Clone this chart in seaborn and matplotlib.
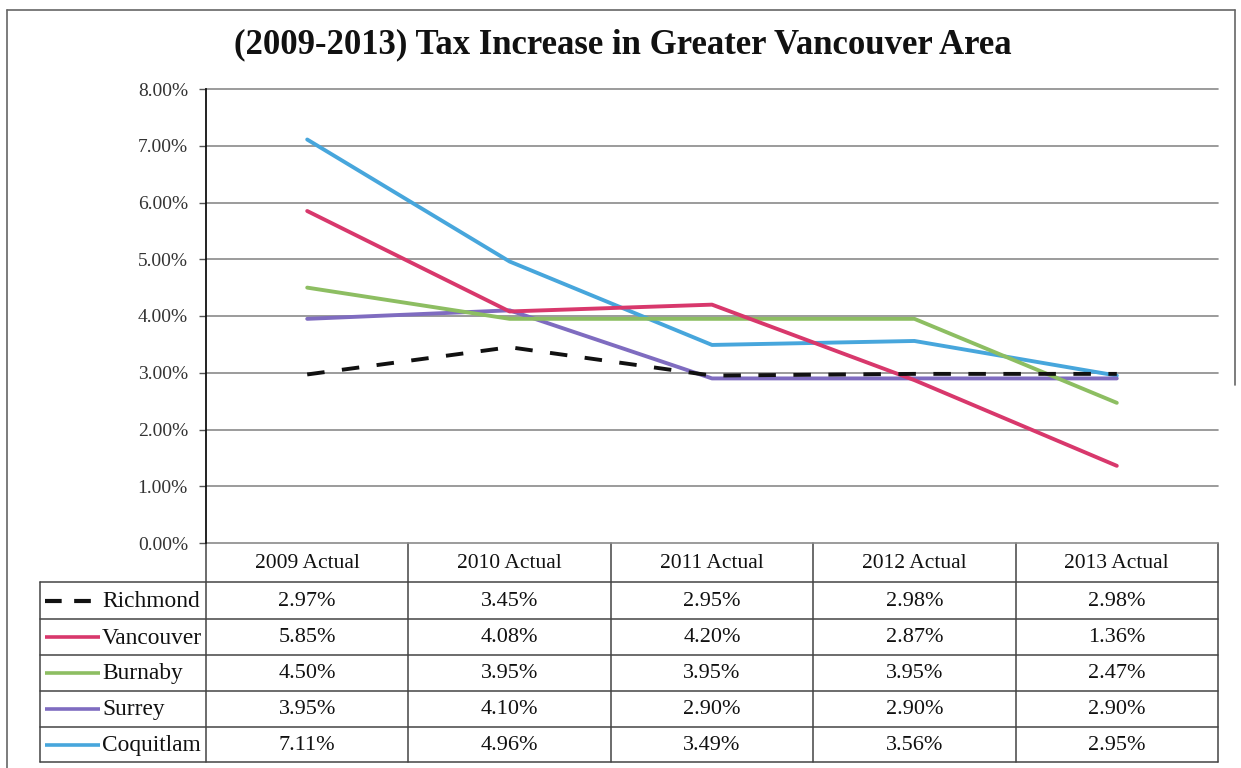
import numpy as np
import pandas as pd
import matplotlib
matplotlib.use("Agg")
import matplotlib.pyplot as plt
import seaborn as sns
from matplotlib.ticker import FuncFormatter

# Annual property tax increase (%), Greater Vancouver municipalities
years = ["2009 Actual", "2010 Actual", "2011 Actual", "2012 Actual", "2013 Actual"]
cities = ["Richmond", "Vancouver", "Burnaby", "Surrey", "Coquitlam"]
richmond = [2.97, 3.45, 2.95, 2.98, 2.98]
vancouver = [5.85, 4.08, 4.20, 2.87, 1.36]
burnaby = [4.50, 3.95, 3.95, 3.95, 2.47]
surrey = [3.95, 4.10, 2.90, 2.90, 2.90]
coquitlam = [7.11, 4.96, 3.49, 3.56, 2.95]
y_ticks = [0, 1, 2, 3, 4, 5, 6, 7, 8]
title = "(2009-2013) Tax Increase in Greater Vancouver Area"

series = dict(zip(cities, [richmond, vancouver, burnaby, surrey, coquitlam]))
palette = {
    "Richmond": "#111111",
    "Vancouver": "#D8386C",
    "Burnaby": "#8DBE62",
    "Surrey": "#7F6CC0",
    "Coquitlam": "#47A6DC",
}
dash_map = {c: "" for c in cities}
dash_map["Richmond"] = (4.5, 4.5)

df = pd.DataFrame(
    [(c, y, v) for c in cities for y, v in zip(years, series[c])],
    columns=["City", "Year", "Rate"],
)

sns.set_style("white")
plt.rcParams["font.family"] = ["Liberation Serif", "DejaVu Serif"]

W, H = 1241, 768
fig = plt.figure(figsize=(W / 100, H / 100), dpi=100)

# layout in pixels
plot_left, plot_right, plot_top, plot_bottom = 206, 1218, 89, 543
table_left = 40
row_edges = [582, 619, 655, 691, 727, 762]

# overlay for frame and data table (pixel coordinates)
ov = fig.add_axes([0, 0, 1, 1], zorder=0)
ov.set_xlim(0, W)
ov.set_ylim(H, 0)
ov.axis("off")

ax = fig.add_axes([plot_left / W, 1 - plot_bottom / H,
                   (plot_right - plot_left) / W, (plot_bottom - plot_top) / H],
                  zorder=1)
ax.set_facecolor("none")

draw_order = ["Coquitlam", "Surrey", "Burnaby", "Vancouver", "Richmond"]
sns.lineplot(data=df, x="Year", y="Rate", hue="City", style="City",
             hue_order=draw_order, style_order=draw_order,
             palette=palette, dashes=dash_map, linewidth=2.8,
             sort=False, legend=False, ax=ax)

ax.set_xlim(-0.5, len(years) - 0.5)
ax.set_ylim(0, 8)
ax.set_yticks(y_ticks)
ax.yaxis.set_major_formatter(FuncFormatter(lambda v, _: f"{v:.2f}%"))
ax.set_xticks([])
ax.set_xlabel("")
ax.set_ylabel("")
ax.grid(axis="y", color="#8a8a8a", linewidth=1.2)
ax.grid(axis="x", visible=False)
for gl in ax.get_ygridlines():
    gl.set_clip_on(False)
for side in ["top", "right", "bottom"]:
    ax.spines[side].set_visible(False)
ax.spines["left"].set_color("#111111")
ax.spines["left"].set_linewidth(1.3)
ax.tick_params(axis="y", left=True, length=5, width=1, color="#555555",
               labelsize=14, pad=8, labelcolor="#333333")

# outer chart frame
ov.plot([7, 7], [10, H], color="#666666", lw=1.2)
ov.plot([7, 1235], [10, 10], color="#666666", lw=1.2)
ov.plot([1235, 1235], [10, 385], color="#666666", lw=1.2)

# title
fig.text(623 / W, 1 - 45 / H, title, ha="center", va="center",
         fontsize=25, fontweight="bold", color="#111111")

# data table
line_kw = dict(color="#444444", lw=1.1)
col_edges = np.linspace(plot_left, plot_right, len(years) + 1)
for xe in col_edges:
    ov.plot([xe, xe], [plot_bottom, row_edges[-1]], **line_kw)
ov.plot([table_left, table_left], [row_edges[0], row_edges[-1]], **line_kw)
for ye in row_edges:
    ov.plot([table_left, plot_right], [ye, ye], **line_kw)

for i, yr in enumerate(years):
    xc = (col_edges[i] + col_edges[i + 1]) / 2
    ov.text(xc, (plot_bottom + row_edges[0]) / 2 + 1, yr, ha="center",
            va="center", fontsize=15.5, color="#111111")

for r, c in enumerate(cities):
    ym = (row_edges[r] + row_edges[r + 1]) / 2
    key_ls = (0, (4, 3)) if c == "Richmond" else "-"
    ov.plot([45, 100], [ym, ym], color=palette[c], lw=3.0 if c == "Richmond" else 2.6,
            linestyle=key_ls, solid_capstyle="butt")
    ov.text(102, ym + 1, c, ha="left", va="center", fontsize=16.8, color="#111111")
    for i, v in enumerate(series[c]):
        xc = (col_edges[i] + col_edges[i + 1]) / 2
        ov.text(xc, ym + 1, f"{v:.2f}%", ha="center", va="center",
                fontsize=16, color="#111111")

fig.savefig("out.png", dpi=100, facecolor="white")
